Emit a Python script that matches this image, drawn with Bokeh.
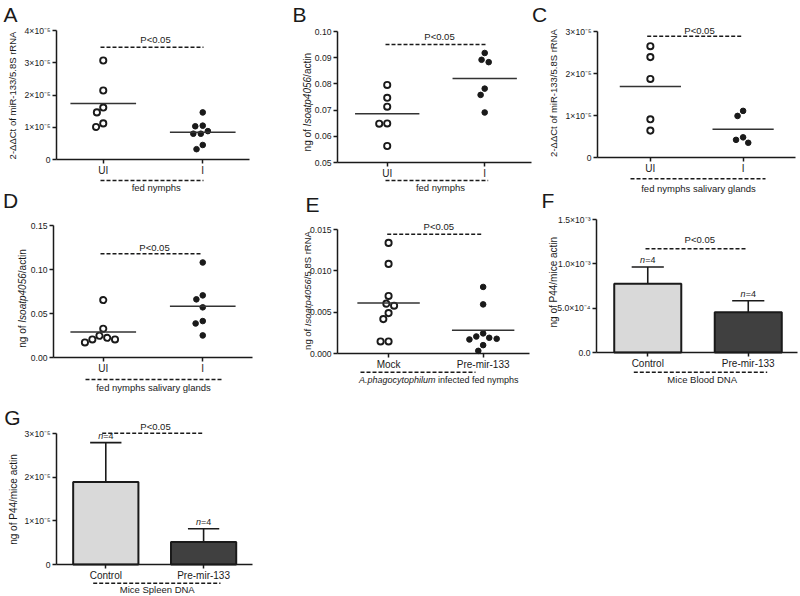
import numpy as np
from bokeh.plotting import figure
from bokeh.models import Range1d, FixedTicker, Label, Arrow, LinearAxis
from bokeh.embed import file_html
from bokeh.resources import INLINE

FONT = "Liberation Sans"
INK = "#1a1a1a"

# ---------------- data ----------------
A_categories = ["UI", "I"]
A_UI = [3.07e-5, 2.14e-5, 1.61e-5, 1.46e-5, 1.12e-5, 1.01e-5]
A_I = [1.46e-5, 1.05e-5, 1.03e-5, 0.88e-5, 0.80e-5, 0.80e-5, 0.45e-5, 0.32e-5]
A_yticks = [0, 1e-5, 2e-5, 3e-5, 4e-5]
A_yticklabels = ["0", "1×10⁻⁵", "2×10⁻⁵", "3×10⁻⁵", "4×10⁻⁵"]

B_categories = ["UI", "I"]
B_UI = [0.0796, 0.0747, 0.0713, 0.0649, 0.0648, 0.0563]
B_I = [0.0918, 0.0892, 0.0883, 0.0782, 0.0758, 0.0691]
B_yticks = [0.05, 0.06, 0.07, 0.08, 0.09, 0.10]
B_yticklabels = ["0.05", "0.06", "0.07", "0.08", "0.09", "0.10"]

C_categories = ["UI", "I"]
C_UI = [2.65e-5, 2.39e-5, 1.87e-5, 0.91e-5, 0.64e-5]
C_I = [1.11e-5, 0.99e-5, 0.48e-5, 0.42e-5, 0.35e-5]
C_yticks = [0, 1e-5, 2e-5, 3e-5]
C_yticklabels = ["0", "1×10⁻⁵", "2×10⁻⁵", "3×10⁻⁵"]

D_categories = ["UI", "I"]
D_UI = [0.0653, 0.0327, 0.0247, 0.0224, 0.0205, 0.0205, 0.0171]
D_I = [0.108, 0.0706, 0.0661, 0.0570, 0.0414, 0.0387, 0.0251]
D_yticks = [0.0, 0.05, 0.10, 0.15]
D_yticklabels = ["0.00", "0.05", "0.10", "0.15"]

E_categories = ["Mock", "Pre-mir-133"]
E_mock = [0.01338, 0.01084, 0.00696, 0.00603, 0.00578, 0.00489, 0.00416, 0.00146, 0.00146]
E_pre = [0.00805, 0.00594, 0.00243, 0.00206, 0.00190, 0.00178, 0.00170, 0.00101, 0.00032]
E_yticks = [0.0, 0.005, 0.010, 0.015]
E_yticklabels = ["0.000", "0.005", "0.010", "0.015"]

F_categories = ["Control", "Pre-mir-133"]
F_mean = [7.75e-4, 4.55e-4]
F_err = [1.90e-4, 1.28e-4]
F_n = [4, 4]
F_yticks = [0, 5e-4, 1e-3, 1.5e-3]
F_yticklabels = ["0.0", "5.0×10⁻⁴", "1.0×10⁻³", "1.5×10⁻³"]

G_categories = ["Control", "Pre-mir-133"]
G_mean = [1.89e-5, 0.513e-5]
G_err = [0.90e-5, 0.306e-5]
G_n = [4, 4]
G_yticks = [0, 1e-5, 2e-5, 3e-5]
G_yticklabels = ["0", "1×10⁻⁵", "2×10⁻⁵", "3×10⁻⁵"]

# ---------------- helpers ----------------
W, H = 800, 596
_W = {" ": 278, ".": 278, "-": 333, "/": 278, "=": 584, "<": 584, "×": 584,
      "a": 556, "b": 556, "c": 500, "d": 556, "e": 556, "f": 278, "g": 556, "h": 556,
      "i": 222, "j": 222, "k": 500, "l": 222, "m": 833, "n": 556, "o": 556, "p": 556,
      "q": 556, "r": 333, "s": 500, "t": 278, "u": 556, "v": 500, "w": 722, "x": 500,
      "y": 500, "z": 500, "A": 667, "C": 722, "I": 278, "M": 833, "N": 722, "P": 667,
      "R": 722, "S": 667}


def text_width(s, size):
    return sum(_W.get(ch, 556) for ch in s) / 1000.0 * size


def swarm(vals, ppu, diam):
    placed, offs = [], []
    for v in vals:
        y = v * ppu
        forb = []
        for xj, yj in placed:
            dy = abs(y - yj)
            if dy < diam:
                hw = (diam ** 2 - dy ** 2) ** 0.5
                forb.append((xj - hw, xj + hw))
        cands = [0.0] + [a for a, b in forb] + [b for a, b in forb]
        cands.sort(key=lambda c: (round(abs(c), 6), c))
        best = 0.0
        for c in cands:
            if all(not (a + 1e-6 < c < b - 1e-6) for a, b in forb):
                best = c
                break
        placed.append((best, y))
        offs.append(best)
    return offs


# one page-sized canvas; default ranges are page pixels (y downwards)
p = figure(width=W, height=H, x_range=Range1d(0, W), y_range=Range1d(H, 0),
           x_axis_location=None, y_axis_location=None, output_backend="svg",
           toolbar_location=None, min_border=0)
p.min_border_left = p.min_border_right = p.min_border_top = p.min_border_bottom = 0
p.outline_line_color = None
p.grid.visible = False
p.background_fill_color = "white"
p.border_fill_color = "white"


def label(px, py, text, size, align="center", baseline="middle", angle=0.0, style="normal"):
    p.add_layout(Label(x=px, y=py, text=text, text_font=FONT, text_font_size=f"{size}px",
                       text_align=align, text_baseline=baseline, angle=angle,
                       text_color=INK, text_font_style=style))


def dash(px0, px1, py):
    p.add_layout(Arrow(x_start=px0, y_start=py, x_end=px1, y_end=py, start=None, end=None,
                       line_dash="4 2", line_width=1.5, line_color=INK))


def hsegments(pxc, py, segs, size):
    total = sum(text_width(s, size) for s, _ in segs)
    x = pxc - total / 2
    for s, st in segs:
        lead = text_width(s[: len(s) - len(s.lstrip())], size)
        label(x + lead, py, s.strip(), size, align="left", style=st)
        x += text_width(s, size)


def vsegments(px, pyc, segs, size):
    total = sum(text_width(s, size) for s, _ in segs)
    y = pyc + total / 2
    for s, st in segs:
        lead = text_width(s[: len(s) - len(s.lstrip())], size)
        label(px, y - lead, s.strip(), size, align="left", angle=np.pi / 2, style=st)
        y -= text_width(s, size)


def vtitle(px, pyc, text, size):
    label(px, pyc, text, size, angle=np.pi / 2)


class Panel:
    """A chart drawn on the shared canvas through its own named x / y ranges."""

    def __init__(self, name, box, xr, yr, yticks, yticklabels, categories):
        L, R, T, B = box
        self.name = name
        self.ppx = (R - L) / (xr[1] - xr[0])
        self.ppy = (B - T) / (yr[1] - yr[0])
        self.fx0 = xr[0] - L / self.ppx
        self.fy1 = yr[1] + T / self.ppy
        p.extra_x_ranges[name] = Range1d(self.fx0, self.fx0 + W / self.ppx)
        p.extra_y_ranges[name] = Range1d(self.fy1 - H / self.ppy, self.fy1)
        common = dict(x_range_name=name, y_range_name=name,
                      axis_line_width=1.5, axis_line_color=INK,
                      major_tick_line_width=1.5, major_tick_line_color=INK,
                      major_tick_out=4, major_tick_in=0, minor_tick_line_color=None,
                      major_label_text_font=FONT, major_label_text_color=INK)
        yax = LinearAxis(fixed_location=xr[0], bounds=(yr[0], yr[1]),
                         ticker=FixedTicker(ticks=list(yticks), minor_ticks=[]),
                         major_label_overrides={t: s for t, s in zip(yticks, yticklabels)},
                         major_label_text_font_size="8.6px", major_label_standoff=2, **common)
        p.add_layout(yax, "left")
        xt = [i + 1 for i in range(len(categories))]
        xax = LinearAxis(fixed_location=yr[0], bounds=(xr[0], xr[1]),
                         ticker=FixedTicker(ticks=xt, minor_ticks=[]),
                         major_label_overrides={t: c for t, c in zip(xt, categories)},
                         major_label_text_font_size="10px", major_label_standoff=1, **common)
        p.add_layout(xax, "below")
        self.rn = dict(x_range_name=name, y_range_name=name)

    def px(self, x):
        return (x - self.fx0) * self.ppx

    def py(self, y):
        return (self.fy1 - y) * self.ppy

    def dots(self, xc, vals, filled):
        diam = 7.5 if filled else 8.0
        offs = swarm(vals, self.ppy, diam)
        xs = [xc + o / self.ppx for o in offs]
        if filled:
            p.scatter(xs, vals, marker="circle", size=5.6, fill_color=INK, line_color=INK,
                      line_width=1, **self.rn)
        else:
            p.scatter(xs, vals, marker="circle", size=6.2, fill_color="white",
                      line_color=INK, line_width=1.9, **self.rn)
        m = float(np.mean(vals))
        p.segment(x0=[xc - 0.33], y0=[m], x1=[xc + 0.33], y1=[m], line_width=1.5,
                  line_color="#333333", **self.rn)

    def bars(self, means, errs, ns, colors):
        xs = [1, 2]
        tops = [m + e for m, e in zip(means, errs)]
        p.vbar(x=xs, top=means, bottom=0, width=0.667, fill_color=colors,
               line_color=INK, line_width=2, **self.rn)
        p.segment(x0=xs, y0=means, x1=xs, y1=tops, line_width=1.6, line_color=INK, **self.rn)
        p.segment(x0=[x - 0.16 for x in xs], y0=tops, x1=[x + 0.16 for x in xs], y1=tops,
                  line_width=1.6, line_color=INK, **self.rn)
        for x, t, n in zip(xs, tops, ns):
            pxc = self.px(x)
            pyb = self.py(t) - 1.5
            split = pxc - text_width(f"n={n}", 9) / 2 + text_width("n", 9)
            label(split, pyb, "n", 9, align="right", baseline="bottom", style="italic")
            label(split, pyb, f"={n}", 9, align="left", baseline="bottom")


# ---------------- panels (positions in page pixels) ----------------
A = Panel("A", (56, 249, 30, 159), (0.53, 2.47), (0, 4e-5), A_yticks, A_yticklabels, A_categories)
A.dots(1, A_UI, False)
A.dots(2, A_I, True)
label(10, 14, "A", 21)
vtitle(12, 95, "2-ΔΔCt of miR-133/5.8S rRNA", 9.5)
label(155, 39, "P<0.05", 9.5)
dash(100, 203, 46.7)
dash(100, 203, 180)
label(155.7, 187, "fed nymphs", 9.5)

B = Panel("B", (337, 531, 31, 162), (0.49, 2.48), (0.05, 0.10), B_yticks, B_yticklabels, B_categories)
B.dots(1, B_UI, False)
B.dots(2, B_I, True)
label(299, 14, "B", 21)
vsegments(306.7, 101.7, [("ng of ", "normal"), ("Isoatp4056", "italic"), ("/actin", "normal")], 10)
label(439, 35.7, "P<0.05", 9.5)
dash(385, 485, 44)
dash(385, 487.7, 180)
label(440, 187.3, "fed nymphs", 9.5)

C = Panel("C", (597, 795, 31, 157), (0.43, 2.565), (0, 3e-5), C_yticks, C_yticklabels, C_categories)
C.dots(1, C_UI, False)
C.dots(2, C_I, True)
label(539, 14, "C", 21)
vtitle(553.3, 92.5, "2-ΔΔCt of miR-133/5.8S rRNA", 9.5)
label(699, 30.2, "P<0.05", 9.5)
dash(646.7, 742.7, 35.7)
dash(630, 765, 178.3)
label(698, 187.8, "fed nymphs salivary glands", 9.5)

D = Panel("D", (53, 252, 225, 357), (0.50, 2.50), (0, 0.15), D_yticks, D_yticklabels, D_categories)
D.dots(1, D_UI, False)
D.dots(2, D_I, True)
label(10, 200, "D", 21)
vsegments(21.7, 298, [("ng of ", "normal"), ("Isoatp4056", "italic"), ("/actin", "normal")], 10)
label(154, 247.3, "P<0.05", 9.5)
dash(100, 201.7, 253.3)
dash(85, 221.7, 379)
label(153, 386.5, "fed nymphs salivary glands", 9.5)

E = Panel("E", (337, 529, 229, 353), (0.46, 2.49), (0, 0.015), E_yticks, E_yticklabels, E_categories)
E.dots(1, E_mock, False)
E.dots(2, E_pre, True)
label(312, 204, "E", 21)
vsegments(306.7, 290, [("ng of ", "normal"), ("Isoatp4056", "italic"), ("/5.8S rRNA", "normal")], 9.5)
label(438.3, 225.7, "P<0.05", 9.5)
dash(386.7, 482.7, 233.7)
dash(360, 475, 371.7)
hsegments(438.3, 379, [("A.phagocytophilum", "italic"), (" infected fed nymphs", "normal")], 9)

F = Panel("F", (596, 797, 219, 352), (0.49, 2.49), (0, 1.5e-3), F_yticks, F_yticklabels, F_categories)
F.bars(F_mean, F_err, F_n, ["#d9d9d9", "#404040"])
label(547.5, 200, "F", 21)
vtitle(552.7, 281.7, "ng of P44/mice actin", 10)
label(699.3, 239.3, "P<0.05", 9.5)
dash(645, 746.7, 248.3)
dash(633.3, 766.7, 371.7)
label(701.7, 379, "Mice Blood DNA", 9.5)

G = Panel("G", (56, 252, 433, 564), (0.496, 2.50), (0, 3e-5), G_yticks, G_yticklabels, G_categories)
G.bars(G_mean, G_err, G_n, ["#d9d9d9", "#404040"])
label(12, 416.7, "G", 21)
vtitle(13.3, 499, "ng of P44/mice actin", 10)
label(155, 425.7, "P<0.05", 9.5)
dash(101.7, 201.7, 432.7)
dash(92.7, 220, 582.7)
label(156.7, 589, "Mice Spleen DNA", 9.5)

open("out.html", "w").write(file_html(p, INLINE))
